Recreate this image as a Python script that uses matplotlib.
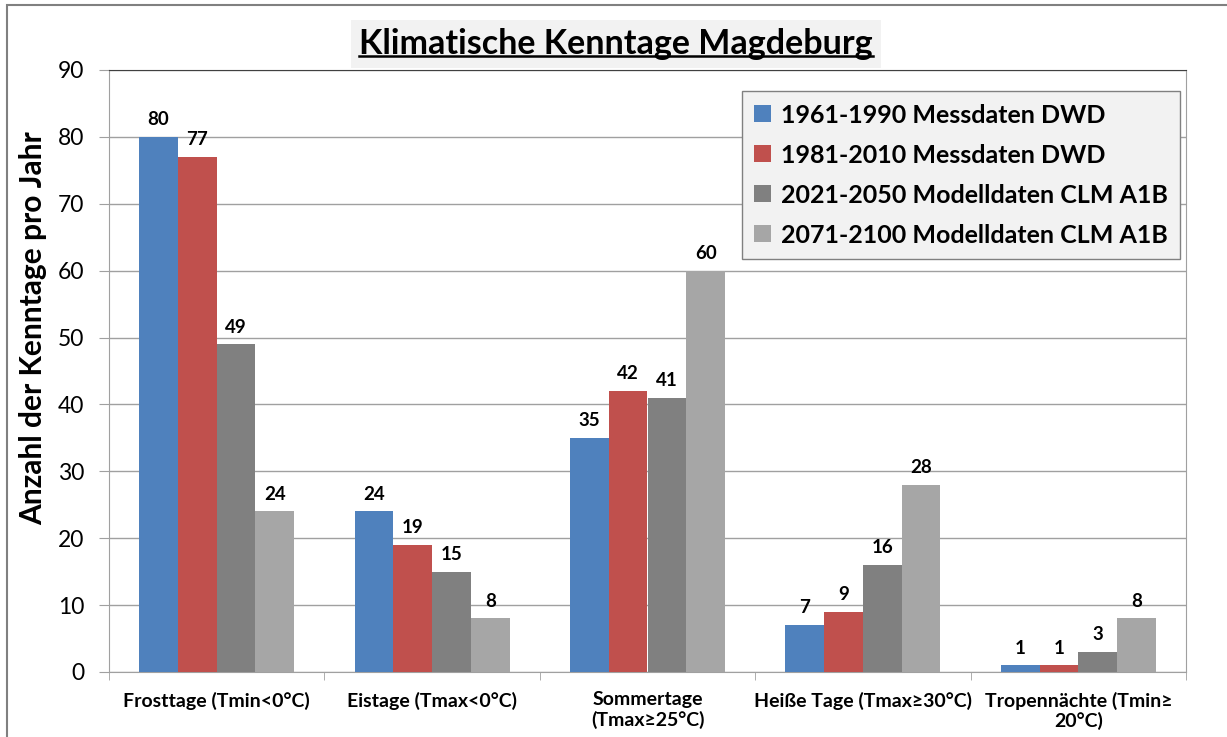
import numpy as np
import matplotlib.pyplot as plt
from matplotlib.lines import Line2D
from matplotlib.patches import Rectangle

plt.rcParams['font.family'] = ['Lato', 'DejaVu Sans']

# --- data
categories = ['Frosttage (Tmin<0°C)', 'Eistage (Tmax<0°C)', 'Sommertage\n(Tmax≥25°C)',
              'Heiße Tage (Tmax≥30°C)', 'Tropennächte (Tmin≥\n20°C)']
series = ['1961-1990 Messdaten DWD', '1981-2010 Messdaten DWD',
          '2021-2050 Modelldaten CLM A1B', '2071-2100 Modelldaten CLM A1B']
v_1961 = [80, 24, 35, 7, 1]
v_1981 = [77, 19, 42, 9, 1]
v_2021 = [49, 15, 41, 16, 3]
v_2071 = [24, 8, 60, 28, 8]
values = [v_1961, v_1981, v_2021, v_2071]
colors = ['#4F81BD', '#C0504D', '#808080', '#A6A6A6']

fig = plt.figure(figsize=(12.27, 7.37), dpi=100)
ax = fig.add_axes((109/1227, 1-672/737, (1186-109)/1227, (672-70)/737))

x = np.arange(len(categories))
w = 0.18
for i, (vals, c, name) in enumerate(zip(values, colors, series)):
    pos = x + (i - 1.5)*w
    bars = ax.bar(pos, vals, w, color=c, label=name, zorder=3)
    for b, v in zip(bars, vals):
        ax.text(b.get_x() + b.get_width()/2, v + 1.3, str(v), ha='center', va='bottom',
                fontsize=13.5, fontweight='bold', zorder=4)

ax.set_ylim(0, 90)
ax.set_xlim(-0.5, len(categories) - 0.5)
ax.set_yticks(range(0, 91, 10))
ax.yaxis.grid(True, color='#A0A0A0', lw=1, zorder=0)
ax.set_xticks(x)
ax.set_xticklabels(categories, fontsize=14, fontweight='bold', linespacing=1.15)
ax.set_xticks(np.arange(-0.5, len(categories)), minor=True)
ax.tick_params(axis='x', which='major', length=0, pad=14)
ax.tick_params(axis='x', which='minor', length=6, color='#A0A0A0')
ax.tick_params(axis='y', length=7, color='#A0A0A0', labelsize=16.5, pad=11)
for s in ['left', 'bottom', 'right']:
    ax.spines[s].set_color('#A0A0A0')
ax.spines['top'].set_color('#404040')
ax.set_ylabel('Anzahl der Kenntage pro Jahr', fontsize=21.5, fontweight='bold')
ax.yaxis.set_label_coords(-62/1077, (672-328)/602)

leg = ax.legend(loc='upper right', bbox_to_anchor=(0.9945, 0.965),
                prop={'weight': 'bold', 'size': 18}, frameon=True, fancybox=False,
                handlelength=0.65, handleheight=0.65, handletextpad=0.4, labelspacing=0.68,
                borderpad=0.5, borderaxespad=0)
leg.get_frame().set_facecolor('#F2F2F2')
leg.get_frame().set_edgecolor('#808080')
leg.get_frame().set_alpha(1)

# title with grey box and underline
title = fig.text(616/1227, 1-44/737, 'Klimatische Kenntage Magdeburg', ha='center', va='center',
                 fontsize=24.5, fontweight='bold',
                 bbox=dict(facecolor='#F2F2F2', edgecolor='none', pad=6))
fig.canvas.draw()
bb = title.get_window_extent().transformed(fig.transFigure.inverted())
fig.add_artist(Line2D([bb.x0, bb.x1], [bb.y0 + 0.006, bb.y0 + 0.006], color='black', lw=1.8,
                      transform=fig.transFigure, zorder=10))

# outer chart frame
fig.add_artist(Rectangle((7/1227, -0.05), 1.2, 1-5/737 + 0.05, transform=fig.transFigure,
                         fill=False, edgecolor='#808080', lw=1.5))

fig.savefig('out.png', dpi=100)
